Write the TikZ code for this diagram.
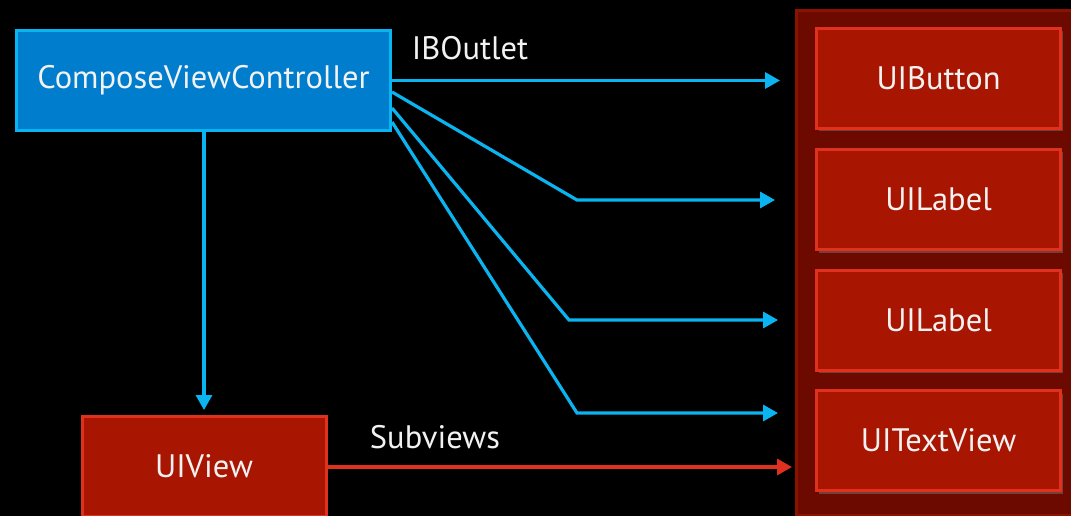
\documentclass[tikz,border=0pt]{standalone}
\usepackage{fontspec}
\setmainfont{PT Sans}
\usetikzlibrary{arrows.meta,shadows}
\definecolor{bgblack}{HTML}{000000}
\definecolor{cvcfill}{HTML}{007DCC}
\definecolor{cvcborder}{HTML}{0AB4F0}
\definecolor{redfill}{HTML}{A81500}
\definecolor{redborder}{HTML}{E0301E}
\definecolor{contfill}{HTML}{6C0A00}
\definecolor{contborder}{HTML}{8C1200}
\definecolor{textwhite}{HTML}{F2F2F2}
\tikzset{
  lbl/.style={text=textwhite,font=\fontsize{32.5}{38}\selectfont},
  bluebox/.style={draw=cvcborder,fill=cvcfill,line width=3pt,minimum width=374pt,minimum height=100pt,lbl},
  redbox/.style={draw=redborder,fill=redfill,line width=3pt,minimum width=244pt,minimum height=100pt,lbl,
     drop shadow={opacity=0.45,shadow xshift=2pt,shadow yshift=-3pt}},
  bluearrow/.style={draw=cvcborder,line width=3.2pt,-{Triangle[length=15pt,width=16pt]}},
  redarrow/.style={draw=redborder,line width=3.2pt,-{Triangle[length=15pt,width=16pt]}}
}
\begin{document}
\begin{tikzpicture}[x=1pt,y=-1pt]
\fill[bgblack] (0,0) rectangle (1071,516);
\useasboundingbox (0,0) rectangle (1071,516);
% container
\node[draw=contborder,fill=contfill,line width=3pt,minimum width=300pt,minimum height=504pt,anchor=north west,inner sep=0pt] (cont) at (794.5,9.5) {};
% boxes
\node[bluebox] (cvc) at (203.5,80.5) {ComposeViewController};
\node[redbox] (btn) at (938.5,78.5) {UIButton};
\node[redbox] (lab1) at (938.5,199.5) {UILabel};
\node[redbox] (lab2) at (938.5,320) {UILabel};
\node[redbox] (tv) at (938.5,440.5) {UITextView};
\node[redbox] (uiv) at (204,466) {UIView};
% coordinates
\coordinate (s1) at (392,80.5);
\coordinate (s2) at (392,92);
\coordinate (s3) at (392,108);
\coordinate (s4) at (392,122);
\coordinate (b2) at (577,200);
\coordinate (b3) at (569,320);
\coordinate (b4) at (577,413);
\coordinate (t1) at (780,80.5);
\coordinate (t2) at (775,200);
\coordinate (t3) at (778,320);
\coordinate (t4) at (778,413);
\coordinate (tv0) at (204,410);
\coordinate (tr) at (792,467);
% connectors
\draw[bluearrow] (s1) -- (t1);
\draw[bluearrow] (s2) -- (b2) -- (t2);
\draw[bluearrow] (s3) -- (b3) -- (t3);
\draw[bluearrow] (s4) -- (b4) -- (t4);
\draw[bluearrow] (cvc.south -| tv0) -- (tv0);
\draw[redarrow] (uiv.east |- tr) -- (tr);
% labels
\node[lbl] (ibo) at (470,48) {IBOutlet};
\node[lbl] (subv) at (435,437) {Subviews};
\end{tikzpicture}
\end{document}
